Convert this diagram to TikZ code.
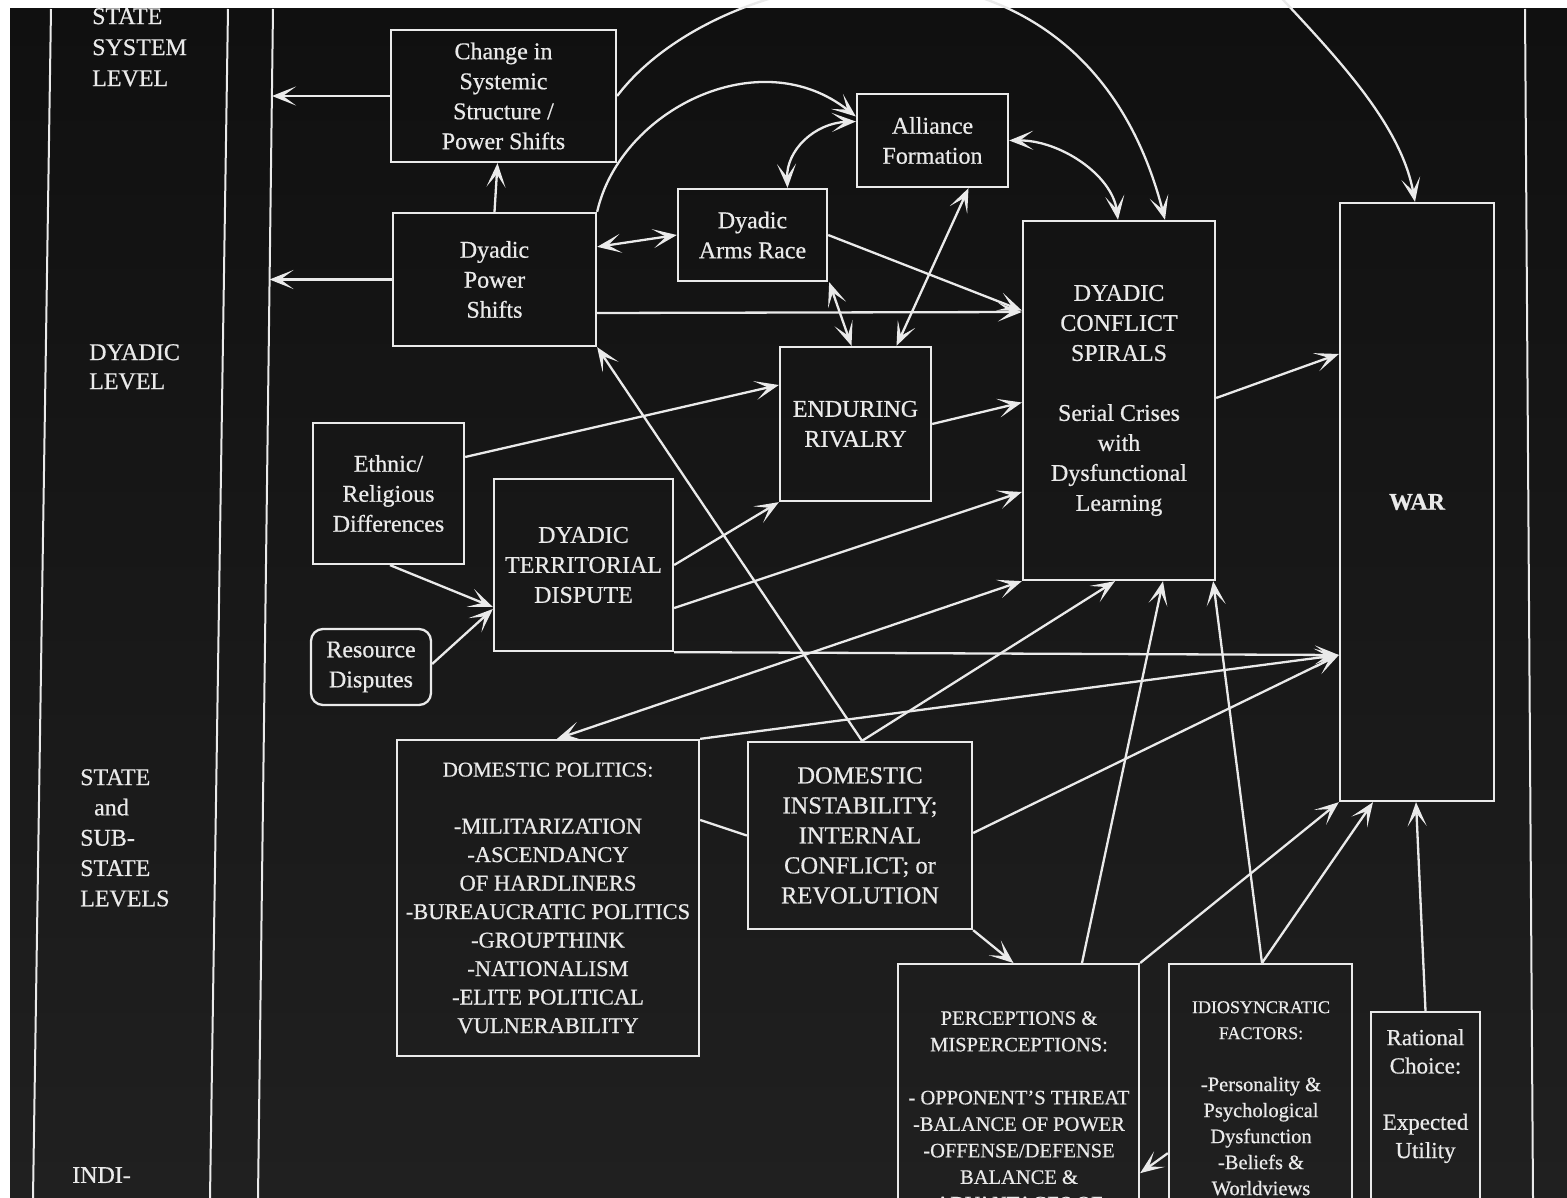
\documentclass[tikz,border=0pt]{standalone}
\usepackage{fontspec}
\setmainfont{Liberation Serif}[FakeBold=0.6]
\usetikzlibrary{arrows.meta,calc}
\definecolor{bgtop}{HTML}{101010}
\definecolor{bgbot}{HTML}{202020}
\definecolor{fgc}{HTML}{EAEAEA}
\begin{document}
\begin{tikzpicture}[x=1pt,y=-1pt,
  every node/.style={text=fgc},
  tip/.tip={Stealth[length=24pt,width=19pt,inset=13pt]},
  box/.style={draw=fgc, line width=2.3pt, align=center, inner sep=0pt, font=\fontsize{24}{30}\selectfont},
  txt/.style={align=center, inner sep=0pt},
  link/.style={draw=fgc, line width=2.3pt, -tip},
  dlink/.style={draw=fgc, line width=2.3pt, tip-tip},
  plain/.style={draw=fgc, line width=2.3pt},
  frameline/.style={draw=fgc, line width=2pt},
  lvl/.style={align=left, anchor=north west, inner sep=0pt, font=\fontsize{24}{30}\selectfont},
]
\useasboundingbox (0,0) rectangle (1567,1198);
\clip (0,0) rectangle (1567,1198);
\fill[white] (0,0) rectangle (1567,1198);
\shade[top color=bgtop, bottom color=bgbot] (10,9) rectangle (1567,1198);

% page lines
\draw[frameline] (51,9) -- (33,1198);
\draw[frameline] (228,9) -- (210,1198);
\draw[frameline] (273,9) -- (258,1198);
\draw[frameline] (1525,9) -- (1533,1198);
\coordinate (pl1) at (272,96);
\coordinate (pl2) at (269.5,279.5);
\coordinate (wtop) at (1255,-30);

% level labels
\node[lvl, font=\fontsize{24}{31}\selectfont] (lab1) at (92,8) {STATE\\SYSTEM\\LEVEL};
\node[lvl, font=\fontsize{24}{29}\selectfont] (lab2) at (89,344) {DYADIC\\LEVEL};
\node[lvl, font=\fontsize{24}{30.3}\selectfont] (lab3) at (80,769) {STATE\\\hspace*{14pt}and\\SUB-\\STATE\\LEVELS};
\node[lvl, font=\fontsize{24}{31}\selectfont] (lab4) at (72,1167) {INDI-\\VIDUAL};

% boxes
\node[box, minimum width=225pt, minimum height=132pt] (chg) at (503.5,96) {Change in\\Systemic\\Structure /\\Power Shifts};
\node[box, minimum width=203pt, minimum height=133pt] (dps) at (494.5,279.5) {Dyadic\\Power\\Shifts};
\node[box, minimum width=149pt, minimum height=92pt] (arms) at (752.5,235) {Dyadic\\Arms Race};
\node[box, minimum width=151pt, minimum height=93pt] (ally) at (932.5,140.5) {Alliance\\Formation};
\node[box, minimum width=192pt, minimum height=359pt] (dcs) at (1119,400.5) {DYADIC\\CONFLICT\\SPIRALS\\[30pt]Serial Crises\\with\\Dysfunctional\\Learning};
\node[box, minimum width=154pt, minimum height=598pt, font=\bfseries\fontsize{24}{30}\selectfont] (war) at (1417,502) {WAR};
\node[box, minimum width=151pt, minimum height=154pt] (er) at (855.5,424) {ENDURING\\RIVALRY};
\node[box, minimum width=151pt, minimum height=141pt] (eth) at (388.5,493.5) {Ethnic/\\Religious\\Differences};
\node[box, minimum width=179pt, minimum height=172pt] (ter) at (583.5,565) {DYADIC\\TERRITORIAL\\DISPUTE};
\node[box, rounded corners=12pt, minimum width=120pt, minimum height=76pt] (res) at (371,667) {Resource\\Disputes};
\node[box, minimum width=302pt, minimum height=316pt, font=\fontsize{22.5}{28.5}\selectfont] (dom) at (548,898) {{\fontsize{21}{28.5}\selectfont DOMESTIC POLITICS:}\\[28.5pt]-MILITARIZATION\\-ASCENDANCY\\OF HARDLINERS\\-BUREAUCRATIC POLITICS\\-GROUPTHINK\\-NATIONALISM\\-ELITE POLITICAL\\VULNERABILITY};
\node[box, minimum width=224pt, minimum height=187pt, font=\fontsize{24.5}{30}\selectfont] (dis) at (860,835.5) {DOMESTIC\\INSTABILITY;\\INTERNAL\\CONFLICT; or\\REVOLUTION};
\node[box, anchor=north, minimum width=241pt, minimum height=320pt] (per) at (1018.5,963) {};
\node[box, anchor=north, minimum width=183pt, minimum height=320pt] (idi) at (1260.5,963) {};
\node[box, anchor=north, minimum width=109pt, minimum height=300pt] (rat) at (1425.5,1011) {};
\node[txt, anchor=north, font=\fontsize{20.5}{26.5}\selectfont] (pertext) at (1019,1011) {PERCEPTIONS \&\\MISPERCEPTIONS:\\[26.5pt]- OPPONENT'S THREAT\\-BALANCE OF POWER\\-OFFENSE/DEFENSE\\BALANCE \&\\ADVANTAGES OF};
\node[txt, anchor=north, font=\fontsize{20.5}{26}\selectfont] (iditext) at (1261,1001) {{\fontsize{18}{26}\selectfont IDIOSYNCRATIC}\\{\fontsize{18}{26}\selectfont FACTORS:}\\[26pt]-Personality \&\\Psychological\\Dysfunction\\-Beliefs \&\\Worldviews};
\node[txt, anchor=north, font=\fontsize{23}{28.3}\selectfont] (rattext) at (1425.5,1029) {Rational\\Choice:\\[28pt]Expected\\Utility};

% connectors
\draw[link] (chg.west) -- (pl1);
\draw[link] (dps.west) -- (pl2);
\draw[link] (dps.north) -- ([xshift=-6pt]chg.south);
\draw[dlink] ([yshift=-35pt]dps.north east) -- (arms.west);
\draw[link] ([yshift=-33.5pt]dps.east) -- ([yshift=88.5pt]dcs.west);
\draw[link] (chg.east) .. controls (720,-40) and (1080,-110) .. ([xshift=46pt]dcs.north);
\draw[link] (wtop) .. controls (1330,50) and (1400,120) .. ([xshift=-2pt]war.north);
\draw[link] (dps.north east) .. controls (620,110) and (760,40) .. ([yshift=24pt]ally.west);
\draw[dlink] ([yshift=19pt]ally.west) .. controls (815,123) and (786,150) .. ([xshift=35pt]arms.north);
\draw[dlink] (ally.east) .. controls (1060,140) and (1112,175) .. ([xshift=-1pt]dcs.north);
\draw[dlink] ([xshift=36pt]ally.south) -- ([xshift=41pt]er.north);
\draw[dlink] ([xshift=1pt]arms.south east) -- ([xshift=-4pt]er.north);
\draw[link] (arms.east) -- ([yshift=90pt]dcs.west);
\draw[link] ([yshift=36.5pt]eth.east) -- ([yshift=39pt]er.west);
\draw[link] ([xshift=1.5pt]eth.south) -- ([yshift=-42pt]ter.west);
\draw[link] ([yshift=3pt]res.east) -- ([yshift=-44pt]ter.west);
\draw[link] (ter.east) -- (er.south west);
\draw[link] ([yshift=-43pt]ter.east) -- ([yshift=-91.5pt]dcs.west);
\draw[link] (ter.south east) -- ([yshift=-153pt]war.west);
\draw[link] (er.east) -- ([yshift=-2pt]dcs.west);
\draw[link] ([yshift=2.5pt]dcs.east) -- ([yshift=148pt]war.west);
\draw[link] ([xshift=2pt]dis.north) -- (dps.south east);
\draw[dlink] (dcs.south west) -- ([xshift=9pt]dom.north);
\draw[link] (dom.north east) -- ([yshift=-153pt]war.west);
\draw[link] ([xshift=2pt]dis.north) -- ([xshift=-4pt]dcs.south);
\draw[plain] ([yshift=78pt]dom.east) -- (dis.west);
\draw[link] ([yshift=2.5pt]dis.east) -- ([yshift=-153pt]war.west);
\draw[link] (dis.south east) -- ([xshift=-5pt]per.north);
\draw[link] ([xshift=63.5pt]per.north) -- ([xshift=44pt]dcs.south);
\draw[link] (per.north east) -- (war.south west);
\draw[link] ([xshift=1.5pt]idi.north) -- ([xshift=-3pt]dcs.south east);
\draw[link] ([xshift=1.5pt]idi.north) -- ([xshift=-44pt]war.south);
\draw[link] (rat.north) -- ([xshift=-1pt]war.south);
\draw[link] ([yshift=-29pt]idi.west) -- ([yshift=-49pt]per.east);
\end{tikzpicture}
\end{document}
